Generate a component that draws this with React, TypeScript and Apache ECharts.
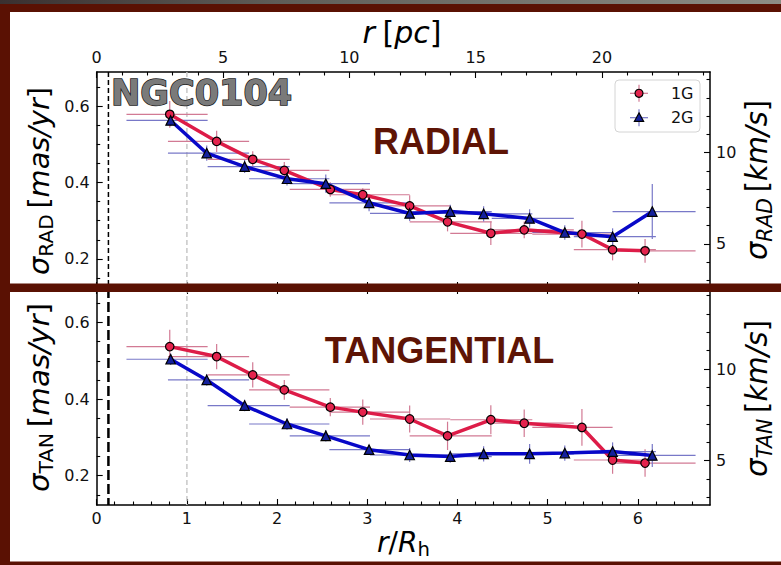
import React, { useEffect, useRef } from "react";
import * as echarts from "echarts";

const W = 781;
const H = 565;

// Radial bins in units of the half-light radius (shared by both populations)
const binLo = [0.33, 0.79, 1.23, 1.69, 2.14, 2.58, 3.03, 3.47, 3.92, 4.38, 4.83, 5.29, 5.72];
const binHi = [1.23, 1.69, 2.14, 2.58, 3.03, 3.47, 3.92, 4.38, 4.83, 5.29, 5.72, 6.2, 6.64];

// Mean radius of each bin, r / R_h
const r1G = [0.81, 1.33, 1.73, 2.08, 2.59, 2.95, 3.47, 3.89, 4.37, 4.74, 5.38, 5.72, 6.08];
const r2G = [0.82, 1.22, 1.64, 2.11, 2.54, 3.02, 3.47, 3.92, 4.29, 4.8, 5.19, 5.72, 6.16];

// Radial dispersion [mas/yr]
const sigRad1G = [0.579, 0.508, 0.461, 0.432, 0.382, 0.368, 0.339, 0.297, 0.267, 0.276, 0.265, 0.224, 0.221];
const errRad1G = [0.035, 0.028, 0.021, 0.022, 0.019, 0.017, 0.028, 0.025, 0.031, 0.022, 0.035, 0.028, 0.031];
const sigRad2G = [0.563, 0.477, 0.442, 0.41, 0.397, 0.347, 0.319, 0.324, 0.318, 0.306, 0.269, 0.258, 0.324];
const errRad2G = [0.015, 0.02, 0.017, 0.018, 0.024, 0.022, 0.02, 0.018, 0.02, 0.024, 0.019, 0.022, 0.072];

// Tangential dispersion [mas/yr]
const sigTan1G = [0.537, 0.511, 0.463, 0.424, 0.379, 0.366, 0.348, 0.304, 0.346, 0.337, 0.326, 0.241, 0.233];
const errTan1G = [0.044, 0.033, 0.033, 0.026, 0.024, 0.033, 0.035, 0.037, 0.038, 0.036, 0.048, 0.036, 0.036];
const sigTan2G = [0.504, 0.45, 0.383, 0.335, 0.304, 0.268, 0.254, 0.25, 0.257, 0.257, 0.259, 0.263, 0.253];
const errTan2G = [0.015, 0.015, 0.015, 0.015, 0.015, 0.012, 0.018, 0.016, 0.02, 0.026, 0.02, 0.024, 0.03];

// Reference radii drawn as vertical dashed lines (r / R_h)
const markRadii = [0.13, 1.0];

// Axis ranges and conversions
const X_MAX = 6.8; // r / R_h
const RH_PC = 3.57; // half-light radius in pc
const Y_MIN = 0.1235;
const Y_MAX = 0.69; // mas/yr
const KMS_PER_MASYR = 20.9;

// Tick values
const xTicks = [0, 1, 2, 3, 4, 5, 6];
const xMinor = [0.2, 0.4, 0.6, 0.8, 1.2, 1.4, 1.6, 1.8, 2.2, 2.4, 2.6, 2.8, 3.2, 3.4, 3.6, 3.8, 4.2, 4.4, 4.6, 4.8, 5.2, 5.4, 5.6, 5.8, 6.2, 6.4, 6.6];
const pcTicks = [0, 5, 10, 15, 20];
const pcMinor = [1, 2, 3, 4, 6, 7, 8, 9, 11, 12, 13, 14, 16, 17, 18, 19, 21, 22, 23, 24];
const yTicks = [0.2, 0.4, 0.6];
const yMinor = [0.15, 0.25, 0.3, 0.35, 0.45, 0.5, 0.55, 0.65];
const kmsTicks = [5, 10];
const kmsMinor = [3, 4, 6, 7, 8, 9, 11, 12, 13, 14];

const RED_LINE = "#dd1c48";
const RED_FILL = "#e4234d";
const RED_BAR = "#d27a94";
const BLUE_LINE = "#0808c8";
const BLUE_FILL = "#14209c";
const BLUE_BAR = "#7878c8";
const FRAME = "#5a1103";
const TITLE_RED = "#5e1405";
const FONT = "DejaVu Sans";

type Part = { t: string; it?: boolean; sub?: boolean; pad?: number };

function makeAxis(o: {
  grid: number;
  pos: string;
  min: number;
  max: number;
  ticks: number[];
  len: number;
  line?: boolean;
  labels?: boolean;
  margin?: number;
}) {
  return {
    type: "value",
    gridIndex: o.grid,
    position: o.pos,
    min: o.min,
    max: o.max,
    axisLine: { show: !!o.line, onZero: false, lineStyle: { color: "#000", width: 1.5 } },
    axisTick: {
      show: true,
      inside: true,
      length: o.len,
      customValues: o.ticks,
      lineStyle: { color: "#000", width: 1.1 },
    },
    axisLabel: {
      show: !!o.labels,
      customValues: o.ticks,
      margin: o.margin ?? 8,
      fontSize: 16,
      fontFamily: FONT,
      color: "#111",
    },
    splitLine: { show: false },
  };
}

export default function App() {
  const ref = useRef<HTMLDivElement>(null);

  useEffect(() => {
    if (!ref.current) return;
    const chart = echarts.init(ref.current, undefined, { renderer: "svg", width: W, height: H });

    const ctx = document.createElement("canvas").getContext("2d") as CanvasRenderingContext2D;
    const measure = (t: string, size: number, italic?: boolean) => {
      ctx.font = `${italic ? "italic " : ""}${size}px "${FONT}"`;
      return ctx.measureText(t).width;
    };

    // Lays out a math-like label (italic runs, subscripts) and fits it to a given length
    const mathLabel = (parts: Part[], S: number, cx: number, cy: number, rotation: number, len: number) => {
      let x = 0;
      const kids: any[] = [];
      parts.forEach((p) => {
        const size = p.sub ? S * 0.7 : S;
        x += (p.pad ?? 0) * S;
        kids.push({
          type: "text",
          x,
          y: p.sub ? S * 0.25 : 0,
          style: {
            text: p.t,
            fontSize: size,
            fontFamily: FONT,
            fontStyle: p.it ? "italic" : "normal",
            fill: "#000",
            align: "left",
            verticalAlign: "middle",
          },
        });
        x += measure(p.t, size, p.it);
      });
      kids.forEach((k) => (k.x -= x / 2));
      return { type: "group", x: cx, y: cy, rotation, scaleX: len / x, scaleY: 1, z: 30, children: kids };
    };

    const xAxes = [
      // top panel
      makeAxis({ grid: 0, pos: "bottom", min: 0, max: X_MAX, ticks: xTicks, len: 6, line: true }),
      makeAxis({ grid: 0, pos: "bottom", min: 0, max: X_MAX, ticks: xMinor, len: 3.5 }),
      makeAxis({ grid: 0, pos: "top", min: 0, max: X_MAX * RH_PC, ticks: pcTicks, len: 6, line: true, labels: true, margin: 7 }),
      makeAxis({ grid: 0, pos: "top", min: 0, max: X_MAX * RH_PC, ticks: pcMinor, len: 3.5 }),
      // bottom panel
      makeAxis({ grid: 1, pos: "bottom", min: 0, max: X_MAX, ticks: xTicks, len: 6, line: true, labels: true, margin: 5 }),
      makeAxis({ grid: 1, pos: "bottom", min: 0, max: X_MAX, ticks: xMinor, len: 3.5 }),
      makeAxis({ grid: 1, pos: "top", min: 0, max: X_MAX, ticks: xTicks, len: 6, line: true }),
      makeAxis({ grid: 1, pos: "top", min: 0, max: X_MAX, ticks: xMinor, len: 3.5 }),
    ];
    const yAxes: any[] = [];
    [0, 1].forEach((g) => {
      yAxes.push(makeAxis({ grid: g, pos: "left", min: Y_MIN, max: Y_MAX, ticks: yTicks, len: 6, line: true, labels: true, margin: 7 }));
      yAxes.push(makeAxis({ grid: g, pos: "left", min: Y_MIN, max: Y_MAX, ticks: yMinor, len: 3.5 }));
      yAxes.push(
        makeAxis({ grid: g, pos: "right", min: Y_MIN * KMS_PER_MASYR, max: Y_MAX * KMS_PER_MASYR, ticks: kmsTicks, len: 6, line: true, labels: true, margin: 6 })
      );
      yAxes.push(makeAxis({ grid: g, pos: "right", min: Y_MIN * KMS_PER_MASYR, max: Y_MAX * KMS_PER_MASYR, ticks: kmsMinor, len: 3.5 }));
    });

    const errorBars = (r: number[], s: number[], e: number[], color: string, ax: number) => ({
      type: "custom",
      xAxisIndex: ax,
      yAxisIndex: ax,
      z: 2,
      silent: true,
      encode: { x: 0, y: 1 },
      data: r.map((x, i) => [x, s[i], binLo[i], binHi[i], e[i]]),
      renderItem: (_p: any, api: any) => {
        const x = api.value(0);
        const y = api.value(1);
        const a = api.coord([api.value(2), y]);
        const b = api.coord([api.value(3), y]);
        const c = api.coord([x, y - api.value(4)]);
        const d = api.coord([x, y + api.value(4)]);
        const st = { stroke: color, lineWidth: 1.2 };
        return {
          type: "group",
          children: [
            { type: "line", shape: { x1: a[0], y1: a[1], x2: b[0], y2: b[1] }, style: st },
            { type: "line", shape: { x1: c[0], y1: c[1], x2: d[0], y2: d[1] }, style: st },
          ],
        };
      },
    });

    const refLines = (ax: number, thick: boolean) => ({
      type: "custom",
      xAxisIndex: ax,
      yAxisIndex: ax,
      z: 1,
      silent: true,
      encode: { x: 0 },
      data: markRadii.map((v) => [v]),
      renderItem: (params: any, api: any) => {
        const cs = params.coordSys;
        const px = api.coord([api.value(0), Y_MIN])[0];
        const first = params.dataIndex === 0;
        return {
          type: "line",
          shape: { x1: px, y1: cs.y, x2: px, y2: cs.y + cs.height },
          style: first
            ? { stroke: "#000", lineWidth: thick ? 2.5 : 1.5, lineDash: thick ? [10, 4] : [5, 3] }
            : { stroke: "#c8c8c8", lineWidth: 1.5, lineDash: [5, 3] },
        };
      },
    });

    const lineSeries = (r: number[], s: number[], color: string, ax: number) => ({
      type: "line",
      xAxisIndex: ax,
      yAxisIndex: ax,
      z: 3,
      silent: true,
      showSymbol: false,
      symbol: "none",
      data: r.map((x, i) => [x, s[i]]),
      lineStyle: { color, width: 3.5 },
      itemStyle: { color },
    });

    const markers = (r: number[], s: number[], symbol: string, size: number, fill: string, ax: number) => ({
      type: "scatter",
      xAxisIndex: ax,
      yAxisIndex: ax,
      z: 4,
      silent: true,
      symbol,
      symbolSize: size,
      data: r.map((x, i) => [x, s[i]]),
      itemStyle: { color: fill, borderColor: "#000", borderWidth: 1.2, opacity: 1 },
    });

    const panel = (ax: number, s1: number[], e1: number[], s2: number[], e2: number[], thick: boolean) => [
      refLines(ax, thick),
      errorBars(r1G, s1, e1, RED_BAR, ax),
      errorBars(r2G, s2, e2, BLUE_BAR, ax),
      lineSeries(r1G, s1, RED_LINE, ax),
      lineSeries(r2G, s2, BLUE_LINE, ax),
      markers(r1G, s1, "circle", 8.5, RED_FILL, ax),
      markers(r2G, s2, "triangle", 9.5, BLUE_FILL, ax),
    ];

    const legendRow = (y: number, label: string, red: boolean) => {
      const cx = 639;
      const bar = red ? RED_BAR : BLUE_BAR;
      const mark = red
        ? { type: "circle", shape: { cx, cy: y, r: 4 }, style: { fill: RED_FILL, stroke: "#000", lineWidth: 1.2 } }
        : {
            type: "polygon",
            shape: { points: [[cx, y - 4.8], [cx + 4.6, y + 3.6], [cx - 4.6, y + 3.6]] },
            style: { fill: BLUE_FILL, stroke: "#000", lineWidth: 1.2 },
          };
      return [
        { type: "line", shape: { x1: cx - 9, y1: y, x2: cx + 9, y2: y }, style: { stroke: bar, lineWidth: 1.2 } },
        { type: "line", shape: { x1: cx, y1: y - 8.5, x2: cx, y2: y + 8.5 }, style: { stroke: bar, lineWidth: 1.2 } },
        mark,
        {
          type: "text",
          x: 693.5,
          y,
          style: { text: label, fontSize: 16, fontFamily: FONT, fill: "#111", align: "right", verticalAlign: "middle" },
        },
      ];
    };

    const graphic: any[] = [
      // frame
      {
        type: "rect",
        z: -20,
        shape: { x: 0, y: 0, width: W, height: 5 },
        style: {
          fill: new echarts.graphic.LinearGradient(0, 0, 1, 0, [
            { offset: 0, color: "#3a3030" },
            { offset: 0.35, color: "#5e5c57" },
            { offset: 1, color: "#8d8d85" },
          ]),
        },
      },
      { type: "rect", z: -20, shape: { x: 0, y: 4, width: W, height: H - 4 }, style: { fill: FRAME } },
      { type: "rect", z: -19, shape: { x: 10, y: 12, width: W - 10, height: 549.5 }, style: { fill: "#ffffff" } },
      // band between the panels
      { type: "rect", z: 20, shape: { x: 10, y: 283.5, width: W - 10, height: 8.5 }, style: { fill: FRAME } },
      // cluster name
      {
        type: "text",
        z: 25,
        x: 111,
        y: 92.5,
        style: {
          text: "NGC0104",
          fontSize: 35,
          fontWeight: "bold",
          fontFamily: FONT,
          fill: "#7a7a7a",
          stroke: "#1a1a1a",
          lineWidth: 1.5,
          align: "left",
          verticalAlign: "middle",
        },
      },
      {
        type: "text",
        z: 25,
        x: 441,
        y: 141,
        style: {
          text: "RADIAL",
          fontSize: 36,
          fontWeight: "bold",
          fontFamily: "Liberation Sans",
          fill: TITLE_RED,
          align: "center",
          verticalAlign: "middle",
        },
      },
      {
        type: "text",
        z: 25,
        x: 439.5,
        y: 350,
        style: {
          text: "TANGENTIAL",
          fontSize: 36,
          fontWeight: "bold",
          fontFamily: "Liberation Sans",
          fill: TITLE_RED,
          align: "center",
          verticalAlign: "middle",
        },
      },
      // legend
      {
        type: "rect",
        z: 25,
        shape: { x: 615, y: 80, width: 85, height: 52, r: 4 },
        style: { fill: "rgba(255,255,255,0.85)", stroke: "#d4d4d4", lineWidth: 1 },
      },
      ...legendRow(93.3, "1G", true).map((e) => ({ ...e, z: 26 })),
      ...legendRow(117.7, "2G", false).map((e) => ({ ...e, z: 26 })),
      // axis titles
      mathLabel([{ t: "r", it: true }, { t: "[", pad: 0.25 }, { t: "pc", it: true }, { t: "]" }], 30, 402, 33, 0, 79),
      mathLabel([{ t: "r", it: true }, { t: "/" }, { t: "R", it: true }, { t: "h", sub: true }], 28, 403.5, 543, 0, 53),
      mathLabel(
        [{ t: "σ", it: true }, { t: "RAD", sub: true }, { t: "[", pad: 0.2 }, { t: "mas/yr", it: true }, { t: "]" }],
        29, 39, 181, Math.PI / 2, 188
      ),
      mathLabel(
        [{ t: "σ", it: true }, { t: "TAN", sub: true }, { t: "[", pad: 0.2 }, { t: "mas/yr", it: true }, { t: "]" }],
        29, 39, 397.5, Math.PI / 2, 189
      ),
      mathLabel(
        [{ t: "σ", it: true }, { t: "RAD", sub: true, it: true }, { t: "[", pad: 0.2 }, { t: "km/s", it: true }, { t: "]" }],
        30, 757, 180, Math.PI / 2, 160
      ),
      mathLabel(
        [{ t: "σ", it: true }, { t: "TAN", sub: true, it: true }, { t: "[", pad: 0.2 }, { t: "km/s", it: true }, { t: "]" }],
        30, 757, 398.5, Math.PI / 2, 157
      ),
    ];

    chart.setOption({
      animation: false,
      backgroundColor: "transparent",
      textStyle: { fontFamily: FONT },
      grid: [
        { left: 96.7, right: 71, top: 72, height: 216, containLabel: false, outerBoundsMode: "none" },
        { left: 96.7, right: 71, top: 288, height: 217, containLabel: false, outerBoundsMode: "none" },
      ],
      xAxis: xAxes,
      yAxis: yAxes,
      series: [
        ...panel(0, sigRad1G, errRad1G, sigRad2G, errRad2G, false),
        ...panel(4, sigTan1G, errTan1G, sigTan2G, errTan2G, true),
      ],
      graphic,
    });

    return () => chart.dispose();
  }, []);

  return <div ref={ref} style={{ position: "absolute", left: 0, top: 0, width: W, height: H }} />;
}
